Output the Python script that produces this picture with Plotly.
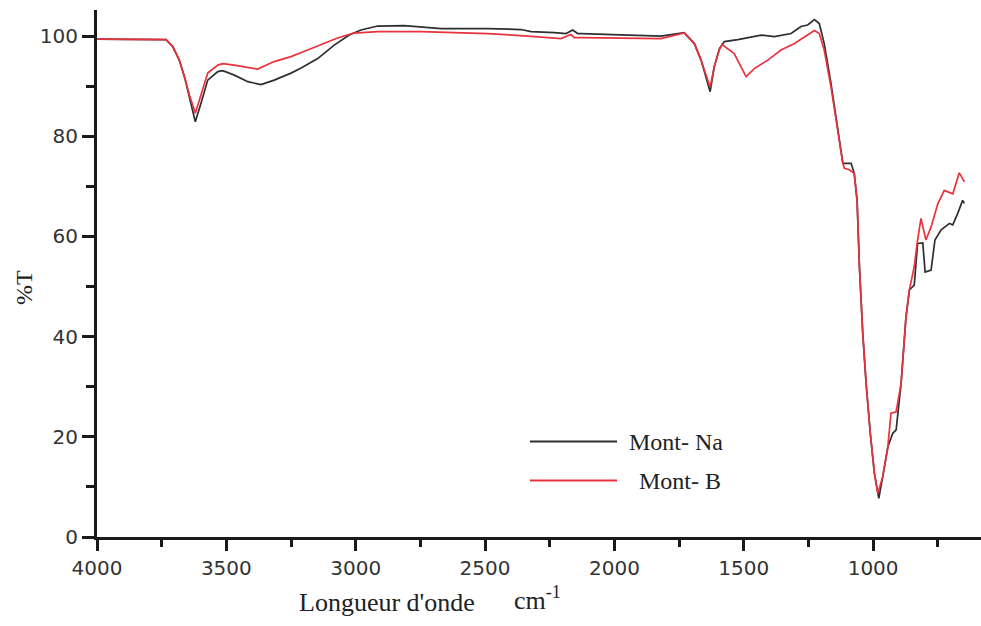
import plotly.graph_objects as go

# ---- data ----
wn_na = [4000, 3869, 3733, 3707, 3682, 3662, 3643, 3620, 3598, 3572, 3533, 3514, 3469, 3417,
         3366, 3315, 3250, 3211, 3147, 3083, 3025, 2980, 2915, 2812, 2670, 2490, 2361, 2322,
         2232, 2187, 2161, 2142, 2129, 1948, 1820, 1730, 1691, 1665, 1646, 1630, 1614, 1594,
         1575, 1523, 1433, 1382, 1317, 1279, 1253, 1227, 1208, 1189, 1163, 1137, 1117, 1098,
         1085, 1073, 1062, 1053, 1040, 1027, 1011, 995, 978, 963, 943, 924, 911, 892, 873, 860,
         841, 828, 808, 799, 776, 761, 737, 705, 692, 673, 654, 647]
t_na = [99.4, 99.4, 99.3, 97.9, 95.2, 91.9, 87.9, 82.9, 86.6, 91.2, 92.9, 93.1, 92.2, 90.9,
        90.3, 91.2, 92.6, 93.6, 95.5, 98.2, 100.2, 101.2, 102.0, 102.1, 101.5, 101.5, 101.3, 100.9,
        100.7, 100.5, 101.2, 100.5, 100.5, 100.2, 100.0, 100.7, 98.5, 95.2, 91.9, 88.9, 93.9, 97.5,
        98.9, 99.3, 100.2, 99.9, 100.5, 101.9, 102.2, 103.3, 102.5, 98.5, 90.6, 81.2, 74.6, 74.6,
        74.6, 72.6, 67.2, 54.0, 40.6, 30.6, 20.7, 12.7, 7.7, 12.0, 18.0, 20.7, 21.4, 30.6, 43.9, 49.3,
        50.3, 58.6, 58.7, 52.9, 53.3, 59.3, 61.3, 62.6, 62.3, 64.6, 67.2, 66.6]

wn_b = [4000, 3869, 3733, 3707, 3682, 3662, 3643, 3620, 3598, 3572, 3533, 3514, 3469, 3405,
        3379, 3315, 3250, 3186, 3121, 3070, 3007, 2915, 2748, 2490, 2335, 2206, 2168, 2155,
        2129, 1948, 1820, 1730, 1691, 1665, 1646, 1630, 1614, 1594, 1584, 1537, 1491, 1459,
        1407, 1356, 1304, 1227, 1208, 1189, 1163, 1137, 1117, 1111, 1092, 1073, 1062, 1053,
        1040, 1027, 1011, 995, 982, 963, 943, 931, 911, 892, 873, 860, 841, 828, 815, 796,
        776, 750, 725, 692, 667, 647]
t_b = [99.4, 99.4, 99.3, 97.9, 95.2, 91.9, 88.3, 84.6, 88.2, 92.6, 94.2, 94.5, 94.2, 93.6,
       93.4, 94.9, 95.9, 97.2, 98.5, 99.6, 100.6, 100.9, 100.9, 100.5, 100.0, 99.5, 100.3, 99.7,
       99.7, 99.5, 99.5, 100.6, 98.5, 95.2, 92.2, 89.8, 93.9, 97.3, 98.3, 96.5, 91.9, 93.5,
       95.2, 97.2, 98.5, 101.1, 100.5, 97.2, 89.9, 81.2, 74.6, 73.6, 73.3, 72.6, 67.2, 54.0,
       40.6, 30.6, 20.7, 12.7, 8.7, 12.0, 18.0, 24.7, 25.0, 30.6, 43.9, 49.3, 54.0, 59.3, 63.6, 59.3,
       61.9, 66.5, 69.2, 68.5, 72.7, 70.9]

series_names = ["Mont- Na", "Mont- B"]
series_colors = ["#2e2e2e", "#e8323e"]

x_ticks = [4000, 3500, 3000, 2500, 2000, 1500, 1000]
y_ticks = [0, 20, 40, 60, 80, 100]

# ---- figure ----
fig = go.Figure()
fig.add_trace(go.Scatter(x=wn_na, y=t_na, mode="lines", name=series_names[0],
                         line=dict(color=series_colors[0], width=1.7), showlegend=False))
fig.add_trace(go.Scatter(x=wn_b, y=t_b, mode="lines", name=series_names[1],
                         line=dict(color=series_colors[1], width=1.7), showlegend=False))

tick_font = dict(family="DejaVu Sans", size=20, color="#333333")
fig.update_layout(
    width=981, height=626,
    margin=dict(l=97, r=0, t=10, b=89),
    paper_bgcolor="white", plot_bgcolor="white",
    xaxis=dict(range=[4000, 583], tickvals=x_ticks, ticktext=[str(v) for v in x_ticks],
               showline=True, linewidth=3, linecolor="#1a1a1a", showgrid=False, zeroline=False,
               ticks="outside", ticklen=11, tickwidth=2.5, tickcolor="#1a1a1a",
               tickfont=tick_font,
               minor=dict(dtick=250, tick0=0, ticks="outside", ticklen=7, tickwidth=2.5,
                          tickcolor="#1a1a1a", showgrid=False)),
    yaxis=dict(range=[0, 105.2], tickvals=y_ticks, ticktext=[str(v) for v in y_ticks],
               showline=True, linewidth=3, linecolor="#1a1a1a", showgrid=False, zeroline=False,
               ticks="outside", ticklen=12, tickwidth=2.5, tickcolor="#1a1a1a",
               tickfont=tick_font,
               minor=dict(dtick=10, tick0=0, ticks="outside", ticklen=8, tickwidth=2.5,
                          tickcolor="#1a1a1a", showgrid=False)),
)

serif = "Liberation Serif"
# axis titles
fig.add_annotation(text="Longueur d'onde", xref="paper", yref="paper", x=(297 - 97) / 884,
                   y=(537 - 602) / 527, xanchor="left", yanchor="middle", showarrow=False,
                   font=dict(family=serif, size=26, color="#222"))
fig.add_annotation(text="cm<sup>-1</sup>", xref="paper", yref="paper", x=(512 - 97) / 884,
                   y=(537 - 598) / 527, xanchor="left", yanchor="middle", showarrow=False,
                   font=dict(family=serif, size=26, color="#222"))
fig.add_annotation(text="%T", xref="paper", yref="paper", x=(24 - 97) / 884,
                   y=(537 - 288) / 527, xanchor="center", yanchor="middle", textangle=-90,
                   showarrow=False, font=dict(family=serif, size=24, color="#222"))

# legend (drawn manually to match the reference layout)
leg_rows = [(441.5, 627), (480.5, 637)]
for (py, tx), name, col in zip(leg_rows, series_names, series_colors):
    yp = (537 - py) / 527
    fig.add_shape(type="line", xref="paper", yref="paper", x0=(530 - 97) / 884,
                  x1=(617 - 97) / 884, y0=yp, y1=yp, line=dict(color=col, width=1.8))
    fig.add_annotation(text=name, xref="paper", yref="paper", x=(tx - 97) / 884, y=yp,
                       xanchor="left", yanchor="middle", showarrow=False,
                       font=dict(family=serif, size=24, color="#222"))

fig.write_html("out.html")
